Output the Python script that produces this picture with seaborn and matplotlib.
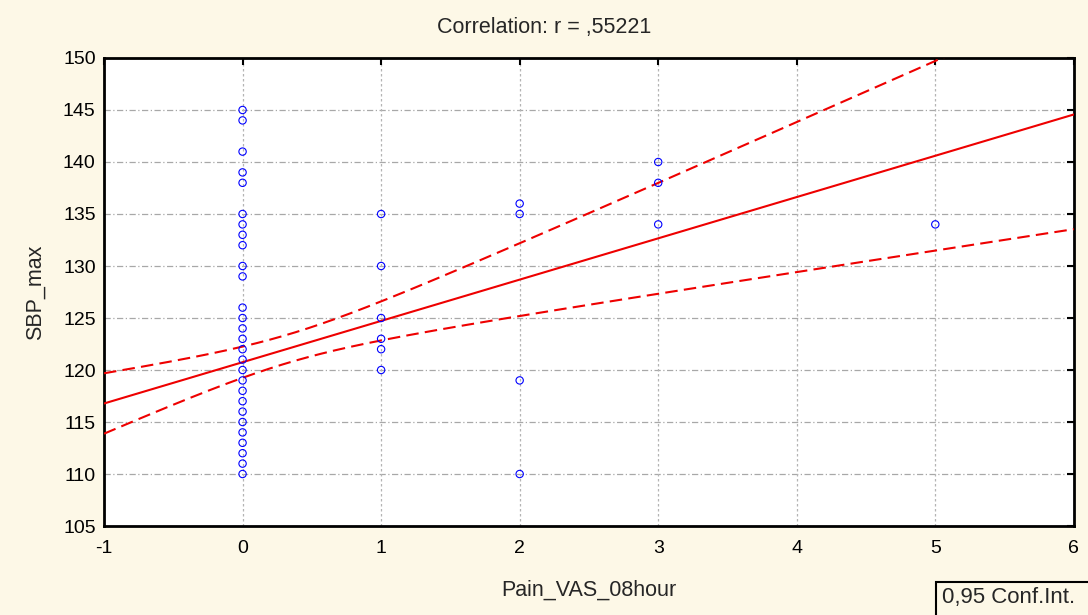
import numpy as np
import pandas as pd
import matplotlib
matplotlib.use("Agg")
import matplotlib.pyplot as plt
from matplotlib.patches import Rectangle
import seaborn as sns

# Scatter values (Pain_VAS_08hour vs SBP_max)
vas_0 = [145, 144, 141, 139, 138, 135, 134, 133, 132, 130, 129, 126, 125, 124,
         123, 122, 121, 120, 119, 118, 117, 116, 115, 114, 113, 112, 111, 110]
vas_1 = [135, 130, 125, 123, 122, 120]
vas_2 = [136, 135, 119, 110]
vas_3 = [140, 138, 134]
vas_5 = [134]

# Fitted regression and 95% band
fit_intercept = 120.75
fit_slope = 3.97
band_min_half = 1.36      # half-width of the band at its narrowest
band_center = 0.33        # x where the band is narrowest (mean of x)
band_growth = 1.93        # how fast the band widens away from the center

x_ticks = [-1, 0, 1, 2, 3, 4, 5, 6]
y_ticks = [105, 110, 115, 120, 125, 130, 135, 140, 145, 150]

groups = {0: vas_0, 1: vas_1, 2: vas_2, 3: vas_3, 5: vas_5}
df = pd.DataFrame(
    [(x, y) for x, ys in groups.items() for y in ys],
    columns=["Pain_VAS_08hour", "SBP_max"],
)

xs = np.linspace(x_ticks[0], x_ticks[-1], 300)
fit = fit_intercept + fit_slope * xs
half = np.sqrt(band_min_half ** 2 + (band_growth * (xs - band_center)) ** 2)
lines = pd.DataFrame({"x": xs, "fit": fit, "upper": fit + half, "lower": fit - half})

cream = "#fdf8e7"
sns.set_style("white")
plt.rcParams["font.family"] = ["Liberation Sans", "DejaVu Sans"]
plt.rcParams["axes.unicode_minus"] = False

fig = plt.figure(figsize=(10.88, 6.15), dpi=100, facecolor=cream)
ax = fig.add_axes([0.0956, 0.1447, 0.8914, 0.761])
ax.set_facecolor("white")

# grid
for yv in y_ticks:
    ax.axhline(yv, color="#a8a8a8", lw=0.9, ls=(0, (5, 2, 1, 2)), zorder=0)
for xv in x_ticks:
    ax.axvline(xv, color="#b4b4b4", lw=0.9, ls=(0, (2, 2)), zorder=0)

sns.lineplot(data=lines, x="x", y="upper", ax=ax, color="#ee0000", lw=1.5,
             zorder=3).lines[-1].set_dashes((6, 3))
sns.lineplot(data=lines, x="x", y="lower", ax=ax, color="#ee0000", lw=1.5,
             zorder=3).lines[-1].set_dashes((6, 3))
sns.lineplot(data=lines, x="x", y="fit", ax=ax, color="#ee0000", lw=1.5, zorder=3)

sns.scatterplot(data=df, x="Pain_VAS_08hour", y="SBP_max", ax=ax, marker="o",
                s=28, facecolor="none", edgecolor="#0000ff", linewidth=0.8,
                zorder=4)

ax.set_xlim(x_ticks[0], x_ticks[-1])
ax.set_ylim(y_ticks[0], y_ticks[-1])
ax.set_xticks(x_ticks)
ax.set_yticks(y_ticks)
ax.tick_params(direction="in", length=5, width=1.5, top=True, right=True,
               labelsize=14, colors="black")
ax.tick_params(axis="x", pad=10)
ax.tick_params(axis="y", pad=6)
for sp in ax.spines.values():
    sp.set_color("black")
    sp.set_linewidth(2)

ax.set_xlabel("Pain_VAS_08hour", fontsize=15.5, va="center")
ax.xaxis.set_label_coords(0.5, -0.137)
ax.set_ylabel("SBP_max", fontsize=15.5, va="center")
ax.yaxis.set_label_coords(-0.071, 0.5)
fig.text(0.5, 1 - 28 / 615, "Correlation: r = ,55221", fontsize=15.5,
         ha="center", va="center")

# legend box, runs off the bottom-right corner like the original
fig.patches.append(Rectangle((0.860, -0.05), 0.2, 0.1037, transform=fig.transFigure,
                             facecolor=cream, edgecolor="black", lw=1.5))
fig.text(0.866, 0.0285, "0,95 Conf.Int.", fontsize=16, ha="left", va="center")

fig.savefig("out.png", dpi=100, facecolor=cream)
